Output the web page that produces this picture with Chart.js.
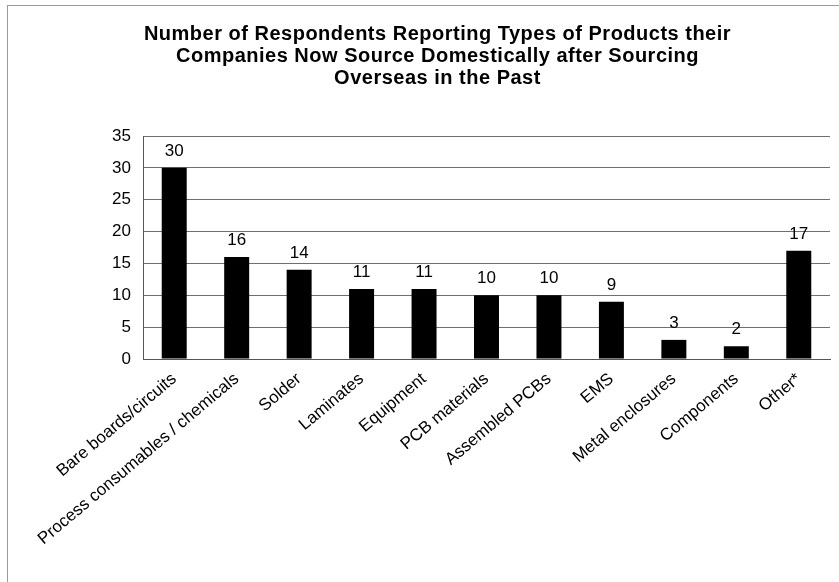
<!DOCTYPE html>
<html>
<head>
<meta charset="utf-8">
<script src="https://cdn.jsdelivr.net/npm/chart.js@4.4.1/dist/chart.umd.min.js"></script>
<style>
  body { margin: 0; background: #fff; }
  #wrap { position: relative; width: 839px; height: 582px; }
  #frame { position: absolute; left: 7px; top: 5px; right: 0; bottom: 0;
           border-top: 1px solid #9a9a9a; border-left: 1px solid #9a9a9a; pointer-events: none; }
</style>
</head>
<body>
<div id="wrap">
  <canvas id="chart" width="839" height="582"></canvas>
  <div id="frame"></div>
</div>
<script>
const categories = ['Bare boards/circuits', 'Process consumables / chemicals', 'Solder', 'Laminates',
  'Equipment', 'PCB materials', 'Assembled PCBs', 'EMS', 'Metal enclosures', 'Components', 'Other*'];
const respondents = [30, 16, 14, 11, 11, 10, 10, 9, 3, 2, 17];
const titleLines = ['Number of Respondents Reporting Types of Products their',
  'Companies Now Source Domestically after Sourcing', 'Overseas in the Past'];

const fontFamily = '"Liberation Sans", Arial, sans-serif';

// value labels above each bar
const barValues = {
  id: 'barValues',
  afterDatasetsDraw(chart) {
    const ctx = chart.ctx;
    const meta = chart.getDatasetMeta(0);
    ctx.save();
    ctx.font = '17px ' + fontFamily;
    ctx.fillStyle = '#000';
    ctx.textAlign = 'center';
    ctx.textBaseline = 'bottom';
    meta.data.forEach((bar, i) => {
      ctx.fillText(respondents[i], bar.x, bar.y - 8);
    });
    ctx.restore();
  }
};

const chart = new Chart(document.getElementById('chart'), {
  type: 'bar',
  data: {
    labels: categories,
    datasets: [{
      data: respondents,
      backgroundColor: '#000',
      borderWidth: 0,
      barPercentage: 0.4,
      categoryPercentage: 1
    }]
  },
  options: {
    responsive: false,
    animation: false,
    devicePixelRatio: 1,
    layout: { padding: { left: 45, right: 9, top: 0, bottom: 0 } },
    plugins: {
      legend: { display: false },
      tooltip: { enabled: false },
      title: {
        display: true,
        text: titleLines,
        color: '#000',
        font: { family: fontFamily, size: 20, weight: 'bold', lineHeight: 1.1 },
        padding: { top: 23, bottom: 47 }
      }
    },
    scales: {
      y: {
        min: 0,
        max: 35,
        ticks: { stepSize: 5, color: '#000', font: { family: fontFamily, size: 17 }, padding: 12 },
        grid: { color: '#6f6f6f', lineWidth: 1, drawTicks: false },
        border: { display: true, color: '#555' },
        afterFit(scale) { scale.width = 98; }
      },
      x: {
        ticks: {
          color: '#000',
          font: { family: fontFamily, size: 17 },
          minRotation: 40,
          maxRotation: 40,
          autoSkip: false,
          padding: 10
        },
        grid: { display: false, drawTicks: false },
        border: { display: true, color: '#555' },
        afterFit(scale) { scale.height = 223; }
      }
    }
  },
  plugins: [barValues]
});

// the original title is set a touch wider than plain bold text
const titleDraw = chart.titleBlock.draw.bind(chart.titleBlock);
chart.titleBlock.draw = function (area) {
  const ctx = chart.ctx;
  ctx.letterSpacing = '0.5px';
  titleDraw(area);
  ctx.letterSpacing = '0px';
};
chart.draw();
</script>
</body>
</html>
